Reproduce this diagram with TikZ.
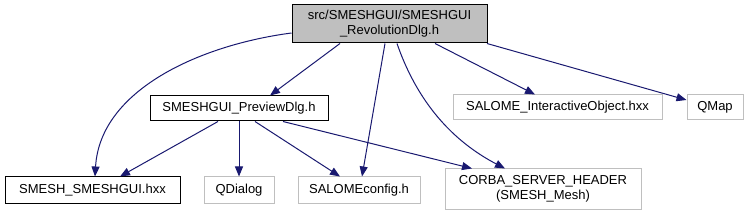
\documentclass[tikz,border=0pt]{standalone}
\usepackage{fontspec}
\setmainfont{Liberation Sans}
\usetikzlibrary{arrows.meta}
\definecolor{edgeblue}{HTML}{191970}
\definecolor{greyline}{HTML}{BFBFBF}
\begin{document}
\begin{tikzpicture}[x=1pt,y=-1pt,
  every node/.style={font=\fontsize{13}{15}\selectfont, inner sep=0pt, align=center},
  blackbox/.style={draw=black, line width=1pt, fill=white},
  greybox/.style={draw=greyline, line width=1pt, fill=white},
  rootbox/.style={draw=black, line width=1pt, fill=greyline},
  dep/.style={draw=edgeblue, line width=1pt, -{Triangle[length=10pt,width=8pt]}}]
\useasboundingbox (0,0) rectangle (749,216);
\node[rootbox, minimum width=195, minimum height=38] (root) at (389.5,24) {src/SMESHGUI/SMESHGUI\\\_RevolutionDlg.h};
\node[blackbox, minimum width=178, minimum height=25] (prev) at (239,108.5) {SMESHGUI\_PreviewDlg.h};
\node[greybox, minimum width=209, minimum height=25] (sio) at (557.5,107.5) {SALOME\_InteractiveObject.hxx};
\node[greybox, minimum width=56, minimum height=25] (qmap) at (715,107.5) {QMap};
\node[blackbox, minimum width=175, minimum height=26] (smesh) at (92.5,190) {SMESH\_SMESHGUI.hxx};
\node[greybox, minimum width=70, minimum height=26] (qdlg) at (239,190) {QDialog};
\node[greybox, minimum width=122, minimum height=26] (scfg) at (359,190) {SALOMEconfig.h};
\node[greybox, minimum width=196, minimum height=40] (corba) at (543,189) {CORBA\_SERVER\_HEADER\\(SMESH\_Mesh)};
\draw[dep] (root.west |- 0,33) .. controls (200,45) and (100,90) .. (smesh.north -| 95,0);
\draw[dep] (root.south -| 340,0) -- (prev.north -| 270,0);
\draw[dep] (root.south -| 385,0) -- (scfg.north -| 362,0);
\draw[dep] (root.south -| 397,0) .. controls (420,110) and (460,145) .. (corba.north -| 505,0);
\draw[dep] (root.south -| 435,0) -- (sio.north -| 535,0);
\draw[dep] (root.south -| 487,0) -- (qmap.west |- 0,100);
\draw[dep] (prev.south -| 218,0) -- (smesh.north -| 120,0);
\draw[dep] (prev) -- (qdlg);
\draw[dep] (prev.south -| 255,0) -- (scfg.north -| 340,0);
\draw[dep] (prev.south -| 283,0) -- (corba.north -| 472,0);
\end{tikzpicture}
\end{document}
